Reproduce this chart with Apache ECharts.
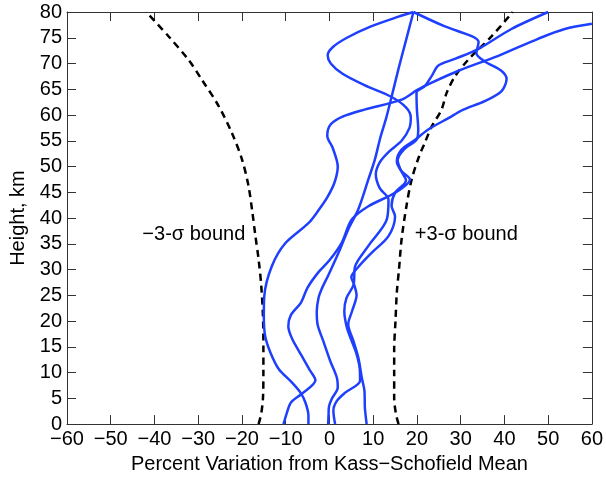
<!DOCTYPE html>
<html>
<head>
<meta charset="utf-8">
<script src="https://cdn.jsdelivr.net/npm/echarts@6/dist/echarts.min.js"></script>
<style>
  html, body { margin: 0; padding: 0; background: #fff; }
  #chart { width: 606px; height: 479px; }
</style>
</head>
<body>
<div id="chart"></div>
<script>
// profiles, [percent variation, height km], bottom to top
const profile1 = [[-10.5,0],[-9.8,2],[-8.8,4.2],[-6.3,5.9],[-3.2,8.5],[-4.5,10.5],[-6.3,13.2],[-8.5,16.5],[-9.4,19],[-8.8,21.2],[-6.5,23.6],[-5,26.5],[-2.5,29.5],[0,31.8],[2.8,35.2],[5.1,39.7],[8.9,42.3],[15,44.9],[18.4,47.5],[16.5,49.1],[15.4,51],[16.5,53.3],[19.6,55.2],[22.6,57.2],[27.2,59.4],[30.5,61],[35.5,62.7],[39.3,64.6],[40.5,67],[39.3,68.6],[35.5,70.4],[33.6,72],[34.1,74.2],[32.5,75.3],[26.4,77.2],[19.2,80]];
const profile2 = [[-4.8,0],[-4.8,1.6],[-5.5,4.2],[-6.7,6.2],[-8.6,8.1],[-11.6,10.7],[-13.5,13.9],[-14.7,17.1],[-15,21],[-14.9,24.8],[-13.2,30.6],[-10.1,35.1],[-4.8,39],[-2.5,41.5],[-0.5,44],[1.2,47],[1.9,50],[0.8,53.5],[-0.5,56],[0.3,58.2],[3,59.7],[8.2,61.1],[16.5,63],[20.3,65],[23.4,66.3],[29.5,68.6],[38.6,71.5],[47.7,74.8],[53.8,76.7],[60,77.7]];
const profile3 = [[-0.3,0],[-0.2,1.8],[-0.1,3.4],[0.6,5],[1.9,7.1],[1.7,9],[0.2,12.2],[-1.4,16.1],[-2.7,19.3],[-2.9,21.9],[-2.5,24.5],[-1.8,26.2],[-0.2,29],[2.1,33.3],[4.3,37.8],[6.6,41.7],[8.9,47.5],[10.4,51.4],[11.6,55.5],[13,59.5],[14.2,63.5],[15.8,69],[17.5,74.5],[19.2,80]];
const profile4 = [[1.3,0],[0.9,2.6],[1.7,4.5],[3.6,6.1],[7,8.4],[6.9,11],[6.2,13.6],[5.1,16.1],[4,18.7],[3.4,21.9],[3.9,24.5],[5.5,27],[5.9,30.7],[8.9,34.6],[13.1,39.7],[13.5,43.6],[11.5,45.8],[10.6,48.5],[11.5,50.8],[13.5,52.8],[16.5,55],[18.3,57.5],[18.6,59.5],[17.5,61.5],[14,63.6],[8,65.8],[3,68],[0.3,70],[-0.4,71.6],[0.8,73.2],[4,75],[9.5,77.2],[15.8,79.1],[19.2,80]];
const profile5 = [[8.5,0],[8.3,1.5],[8.1,3.2],[8,6.5],[7.4,9],[6.6,12.9],[5.5,16.1],[4.3,19.4],[5.2,22],[6.2,25],[5.6,27.2],[5,28.5],[6.6,30.5],[9.7,33.3],[13.5,36.5],[15,40.3],[14.2,42.4],[15,44.9],[17.5,47.3],[16.3,49.3],[15.6,51.2],[17,53.3],[19.9,55.2],[20.3,57.2],[20,61],[19.9,64.3],[21.8,65.6],[23.4,67.6],[24.9,69.6],[28.7,70.9],[34,72.8],[41.6,76.7],[50,80]];

// 3-sigma bounds
const lowerBound = [[-16.2,0],[-15.6,2],[-15.2,5],[-15.1,10],[-15.1,15],[-15.2,21],[-15.6,27],[-16.2,32],[-17,37],[-17.6,41],[-18.5,46.2],[-20,51.4],[-22.3,56.5],[-25.3,61.7],[-29.2,66.9],[-32.2,70.7],[-36.8,75.3],[-41.9,80]];
const upperBound = [[15.8,0],[15.2,2],[14.8,5],[14.8,10],[14.8,14.5],[15.1,20],[15.4,25.5],[15.9,30],[16.5,35.9],[17.6,42.3],[18.8,47.5],[20.5,52],[21.8,54.6],[23.4,57.8],[25.6,61],[26.8,64.3],[28.7,67.5],[31.7,70.7],[37.1,75.3],[41.9,80]];

const boundLabels = [
    {value: [-31, 36.8], text: '\u22123-\u03c3 bound'},
    {value: [31.3, 36.8], text: '+3-\u03c3 bound'}
];

const font = "'Liberation Sans', Arial, Helvetica, sans-serif";
const blue = '#1f3fff';
const axisColor = '#333';

let chart = echarts.init(document.getElementById('chart'));

function minus(v) {
    return String(v).replace('-', '\u2212');
}

function profileSeries(data) {
    return {
        type: 'line',
        data: data,
        showSymbol: false,
        smooth: 0.3,
        lineStyle: {color: blue, width: 2.5},
        silent: true,
        z: 3
    };
}

function boundSeries(data) {
    return {
        type: 'line',
        data: data,
        showSymbol: false,
        smooth: 0.3,
        lineStyle: {color: '#000', width: 2.5, type: [7, 5]},
        silent: true,
        z: 2
    };
}

let axisBase = {
    type: 'value',
    axisLine: {show: true, onZero: false, lineStyle: {color: axisColor, width: 1}},
    axisTick: {show: true, inside: true, length: 9, lineStyle: {color: axisColor}},
    splitLine: {show: false}
};

let option = {
    animation: false,
    backgroundColor: '#fff',
    textStyle: {fontFamily: font},
    grid: {left: 67, right: 12, top: 12, bottom: 54, containLabel: false},
    xAxis: [
        Object.assign({}, axisBase, {
            position: 'bottom', min: -60, max: 60, interval: 10,
            axisLabel: {color: '#000', fontSize: 20, fontFamily: font, margin: 5, formatter: minus},
            name: 'Percent Variation from Kass\u2212Schofield Mean',
            nameLocation: 'middle', nameGap: 28,
            nameTextStyle: {color: '#000', fontSize: 20, fontFamily: font}
        }),
        Object.assign({}, axisBase, {
            position: 'top', min: -60, max: 60, interval: 10,
            axisLabel: {show: false}
        })
    ],
    yAxis: [
        Object.assign({}, axisBase, {
            position: 'left', min: 0, max: 80, interval: 5,
            axisLabel: {color: '#000', fontSize: 20, fontFamily: font, margin: 5},
            name: 'Height, km',
            nameLocation: 'middle', nameGap: 37,
            nameTextStyle: {color: '#000', fontSize: 20, fontFamily: font}
        }),
        Object.assign({}, axisBase, {
            position: 'right', min: 0, max: 80, interval: 5,
            axisLabel: {show: false}
        })
    ],
    series: [
        boundSeries(lowerBound),
        boundSeries(upperBound),
        profileSeries(profile1),
        profileSeries(profile2),
        profileSeries(profile3),
        profileSeries(profile4),
        profileSeries(profile5),
        {
            type: 'scatter',
            symbolSize: 0,
            silent: true,
            itemStyle: {opacity: 1},
            data: boundLabels,
            label: {
                show: true,
                position: 'inside',
                color: '#000',
                textBorderWidth: 0,
                fontSize: 20,
                fontFamily: font,
                formatter: function (p) { return p.data.text; }
            }
        }
    ]
};

chart.setOption(option);
</script>
</body>
</html>
